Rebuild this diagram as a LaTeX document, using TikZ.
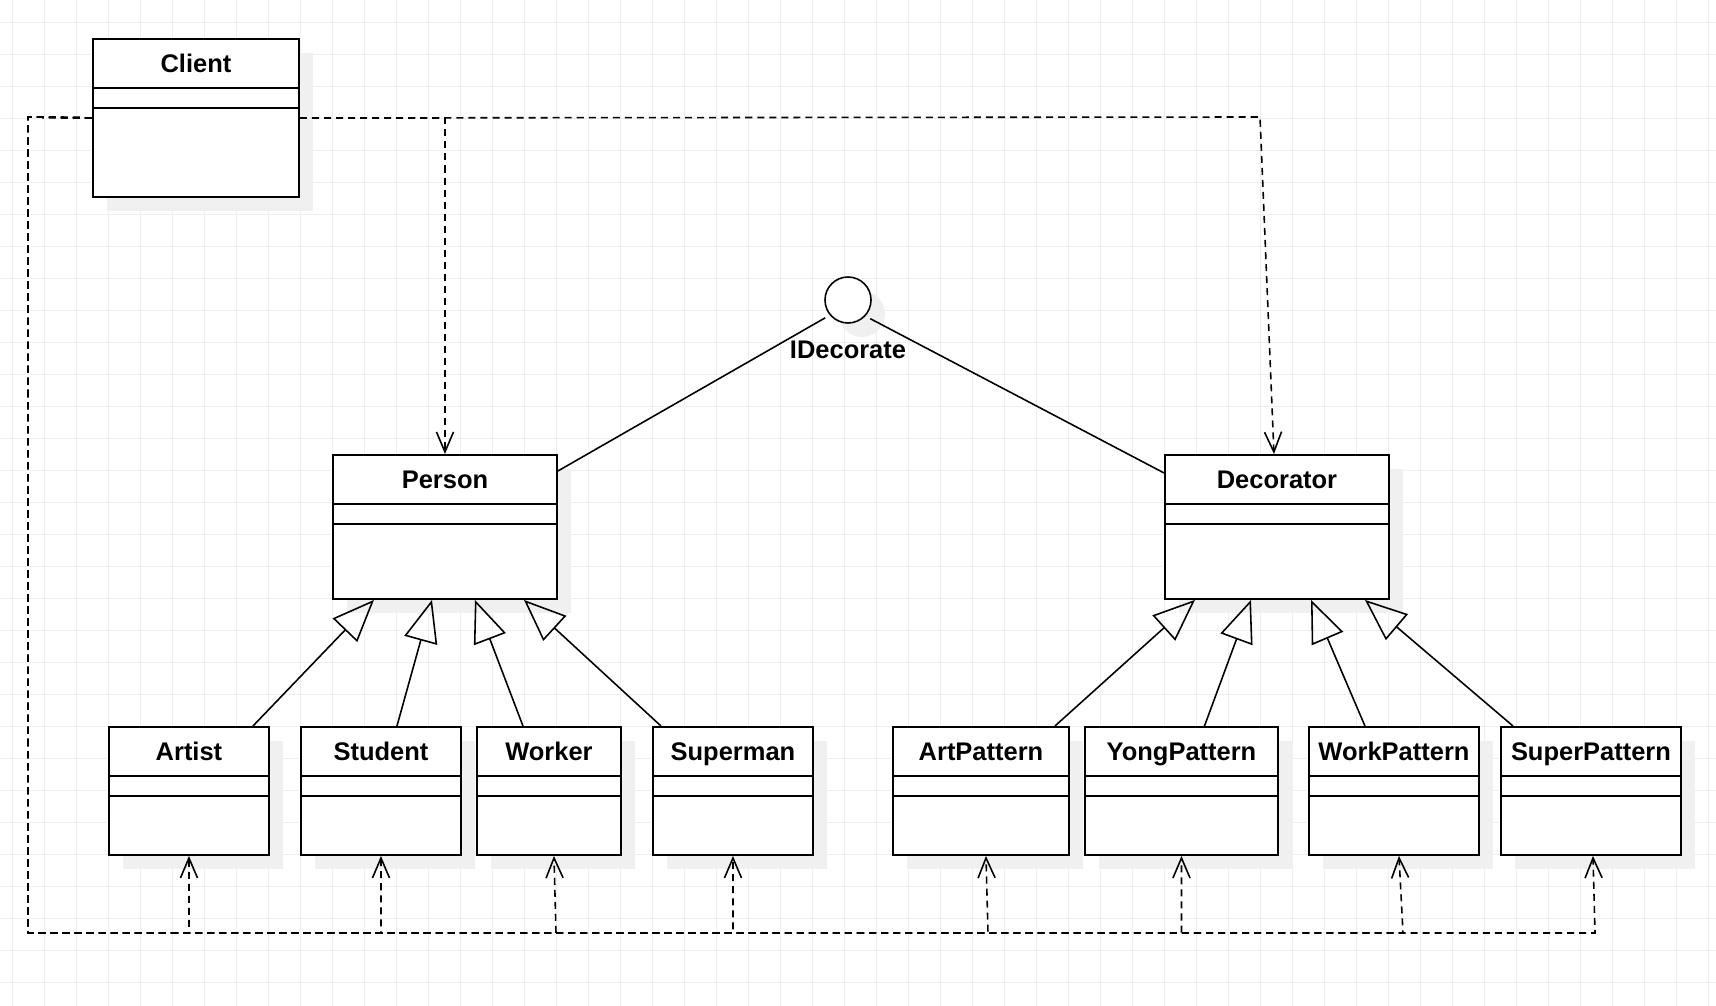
\documentclass[tikz,border=0pt]{standalone}
\usepackage{fontspec}
\setmainfont{Liberation Sans}
\usetikzlibrary{positioning,arrows.meta,shadows,calc}

\newdimen\unitpx \unitpx=0.02cm
\newcommand{\classfont}{\bfseries\fontsize{14.5}{17}\selectfont}
\definecolor{gridgray}{HTML}{EFEFEF}
\definecolor{shadegray}{HTML}{F0F0F0}

\tikzset{
  boxshadow/.style={drop shadow={shadow xshift=14\unitpx, shadow yshift=-14\unitpx, fill=shadegray, opacity=1}},
  cls/.style={draw, fill=white, line width=1.1pt, anchor=north west, inner sep=0pt, boxshadow},
  sub/.style={cls, minimum height=128\unitpx},
  title/.style={font=\classfont, minimum height=50\unitpx, inner sep=0pt, text height=12pt, text depth=2pt},
  assoc/.style={line width=0.9pt},
  inherit/.style={line width=0.9pt, -{Triangle[open, length=23.9pt, width=19.3pt]}},
  dep/.style={line width=0.9pt, dash pattern=on 4pt off 2.85pt, -{Straight Barb[length=11.4pt, width=9.7pt]}},
}

\begin{document}
\begin{tikzpicture}[x=1\unitpx, y=-1\unitpx]
    % canvas and grid
    \useasboundingbox (0,0) rectangle (1716,1006);
    \fill[white] (0,0) rectangle (1716,1006);
    \foreach \gx in {12.5,44.5,...,1716} \draw[gridgray, line width=0.55pt] (\gx,0) -- (\gx,1006);
    \foreach \gy in {22.5,54.5,...,1006} \draw[gridgray, line width=0.55pt] (0,\gy) -- (1716,\gy);
    % client and the two bases
    \node[cls, minimum width=206\unitpx, minimum height=158\unitpx] (client) at (92,38) {};
    \node[cls, minimum width=224\unitpx, minimum height=144\unitpx] (person) at (332,454) {};
    \node[cls, minimum width=224\unitpx, minimum height=144\unitpx] (decorator) at (1164,454) {};
    % persons
    \node[sub, minimum width=160\unitpx] (artist) at (108,726) {};
    \node[sub, minimum width=160\unitpx] (student) at (300,726) {};
    \node[sub, minimum width=144\unitpx] (worker) at (476,726) {};
    \node[sub, minimum width=160\unitpx] (superman) at (652,726) {};
    % patterns
    \node[sub, minimum width=176\unitpx] (artpattern) at (892,726) {};
    \node[sub, minimum width=193\unitpx] (yongpattern) at (1084,726) {};
    \node[sub, minimum width=170\unitpx] (workpattern) at (1308,726) {};
    \node[sub, minimum width=180\unitpx] (superpattern) at (1500,726) {};
    % titles and compartments
    \foreach \n/\t in {client/Client, person/Person, decorator/Decorator, artist/Artist, student/Student,
        worker/Worker, superman/Superman, artpattern/ArtPattern, yongpattern/YongPattern,
        workpattern/WorkPattern, superpattern/SuperPattern} {
        \node[title, below=0pt of \n.north] {\t};
        \draw[line width=1.1pt] ($(\n.north west)+(0,50)$) -- ($(\n.north east)+(0,50)$);
        \draw[line width=1.1pt] ($(\n.north west)+(0,70)$) -- ($(\n.north east)+(0,70)$);
    }
    % interface
    \node[circle, draw, fill=white, line width=0.9pt, minimum size=46\unitpx, inner sep=0pt,
        outer sep=6\unitpx, boxshadow, label={[font=\classfont, label distance=6\unitpx]below:IDecorate}]
        (idecorate) at (848,300) {};
    \draw[assoc] (idecorate.218) -- ([yshift=56\unitpx]person.east);
    \draw[assoc] (idecorate.-40) -- ([yshift=54\unitpx]decorator.west);
    % generalisation
    \draw[inherit] ([xshift=64\unitpx]artist.north) -- ([xshift=-71\unitpx]person.south);
    \draw[inherit] ([xshift=16\unitpx]student.north) -- ([xshift=-13\unitpx]person.south);
    \draw[inherit] ([xshift=-26\unitpx]worker.north) -- ([xshift=30\unitpx]person.south);
    \draw[inherit] ([xshift=-72\unitpx]superman.north) -- ([xshift=79\unitpx]person.south);
    \draw[inherit] ([xshift=74\unitpx]artpattern.north) -- ([xshift=-82\unitpx]decorator.south);
    \draw[inherit] ([xshift=23\unitpx]yongpattern.north) -- ([xshift=-26\unitpx]decorator.south);
    \draw[inherit] ([xshift=-29\unitpx]workpattern.north) -- ([xshift=34\unitpx]decorator.south);
    \draw[inherit] ([xshift=-78\unitpx]superpattern.north) -- ([xshift=88\unitpx]decorator.south);
    % dependencies, top
    \draw[dep] (client.east) -- (client.east -| person.north) -- (person.north);
    \draw[dep] (client.east) -- (1260,117) -- ([xshift=-3\unitpx]decorator.north);
    % dependencies, bottom
    \coordinate (busleft) at (28,117);
    \coordinate (buscorner) at (28,933);
    \draw[dep] (client.west) -- (busleft) -- (buscorner) -| (artist.south);
    \draw[dep] (client.west) -- (busleft) -- (buscorner) -| (student.south);
    \draw[dep] (client.west) -- (busleft) -- (buscorner) -- (556,933) -- ([xshift=5\unitpx]worker.south);
    \draw[dep] (client.west) -- (busleft) -- (buscorner) -| (superman.south);
    \draw[dep] (client.west) -- (busleft) -- (buscorner) -- (988,933) -- ([xshift=5\unitpx]artpattern.south);
    \draw[dep] (client.west) -- (busleft) -- (buscorner) -| (yongpattern.south);
    \draw[dep] (client.west) -- (busleft) -- (buscorner) -- (1403,933) -- ([xshift=5\unitpx]workpattern.south);
    \draw[dep] (client.west) -- (busleft) -- (buscorner) -- (1595,933) -- ([xshift=2\unitpx]superpattern.south);
\end{tikzpicture}
\end{document}
